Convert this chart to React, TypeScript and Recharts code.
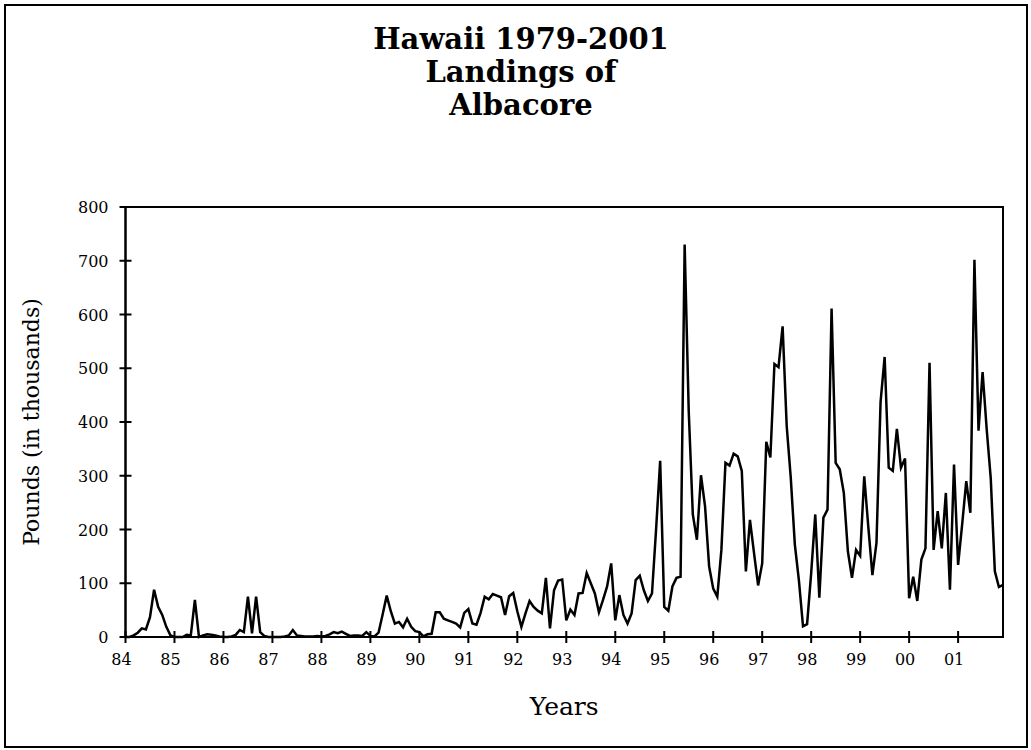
import React from 'react';
import { LineChart, Line, XAxis, YAxis, ReferenceArea, Label } from 'recharts';

// year tick labels (one per January)
const years = ['84', '85', '86', '87', '88', '89', '90', '91', '92', '93', '94', '95', '96', '97', '98', '99', '00', '01'];

// monthly landings, thousands of pounds
const y1984 = [0, 0, 3, 8, 16, 14, 37, 88, 56, 41, 19, 3];
const y1985 = [0, 0, 0, 4, 3, 69, 0, 3, 5, 4, 3, 1];
const y1986 = [0, 0, 1, 4, 13, 9, 75, 7, 75, 9, 2, 0];
const y1987 = [0, 0, 0, 1, 3, 13, 3, 2, 1, 1, 1, 2];
const y1988 = [1, 2, 5, 9, 7, 10, 6, 2, 3, 3, 2, 9];
const y1989 = [2, 1, 8, 42, 77, 48, 25, 28, 18, 34, 19, 11];
const y1990 = [9, 1, 5, 6, 46, 46, 34, 31, 28, 25, 18, 45];
const y1991 = [52, 25, 23, 45, 75, 70, 80, 77, 74, 41, 76, 82];
const y1992 = [48, 19, 44, 67, 56, 49, 44, 110, 16, 87, 105, 107];
const y1993 = [31, 51, 41, 81, 82, 119, 100, 81, 46, 69, 94, 137];
const y1994 = [31, 78, 41, 25, 44, 106, 114, 87, 67, 81, 200, 328];
const y1995 = [56, 49, 94, 110, 112, 730, 420, 228, 181, 301, 243, 131];
const y1996 = [90, 75, 162, 324, 319, 341, 336, 309, 122, 218, 156, 96];
const y1997 = [137, 363, 334, 508, 502, 578, 393, 296, 172, 105, 20, 24];
const y1998 = [119, 228, 73, 222, 237, 611, 324, 312, 268, 159, 110, 162];
const y1999 = [151, 299, 205, 115, 175, 437, 521, 315, 309, 387, 315, 332];
const y2000 = [72, 112, 67, 144, 165, 510, 162, 234, 165, 268, 88, 321];
const y2001 = [134, 210, 290, 231, 702, 384, 493, 387, 295, 122, 93, 97];

const yTicks = [0, 100, 200, 300, 400, 500, 600, 700, 800];

const byYear = [
    y1984, y1985, y1986, y1987, y1988, y1989, y1990, y1991, y1992,
    y1993, y1994, y1995, y1996, y1997, y1998, y1999, y2000, y2001,
];

const data = byYear.flatMap((vals, yi) => vals.map((v, m) => ({ t: yi * 12 + m, v })));
const lastT = data.length - 1;

const serif = '"DejaVu Serif", serif';

// ticks in this chart cross the axis line, so draw them by hand
const XTick = (props: any) => {
    const { x, y, payload } = props;
    const axisY = y - 14;
    return (
        <g>
            <line x1={x} x2={x} y1={axisY - 6} y2={axisY + 6} stroke="#000" strokeWidth={2} />
            <text x={x - 4} y={y + 14} textAnchor="middle" fontFamily={serif} fontSize={16} fill="#000">
                {years[payload.value / 12]}
            </text>
        </g>
    );
};

const YTick = (props: any) => {
    const { x, y, payload } = props;
    const axisX = x + 14;
    return (
        <g>
            <line x1={axisX - 6} x2={axisX + 6} y1={y} y2={y} stroke="#000" strokeWidth={2} />
            <text x={x - 3} y={y + 6} textAnchor="end" fontFamily={serif} fontSize={16} fill="#000">
                {payload.value}
            </text>
        </g>
    );
};

export default function App() {
    return (
        <div style={{ position: 'absolute', left: 0, top: 0, width: 1031, height: 750, background: '#fff' }}>
            <div
                style={{
                    position: 'absolute',
                    left: 4,
                    top: 4,
                    width: 1020,
                    height: 740,
                    border: '2px solid #000',
                }}
            />
            <div
                style={{
                    position: 'absolute',
                    left: 11,
                    top: 23,
                    width: 1020,
                    textAlign: 'center',
                    fontFamily: serif,
                    fontWeight: 'bold',
                    fontSize: 29,
                    lineHeight: '33px',
                    color: '#000',
                }}
            >
                <div>Hawaii 1979-2001</div>
                <div>Landings of</div>
                <div>Albacore</div>
            </div>
            <div style={{ position: 'absolute', left: 0, top: 0 }}>
                <LineChart width={1031} height={750} data={data} margin={{ top: 207, right: 28, bottom: 23, left: 0 }}>
                    <XAxis
                        type="number"
                        dataKey="t"
                        domain={[0, lastT]}
                        ticks={years.map((_, i) => i * 12)}
                        interval={0}
                        height={90}
                        tickSize={6}
                        tickMargin={8}
                        tickLine={false}
                        axisLine={{ stroke: '#000', strokeWidth: 2 }}
                        tick={<XTick />}
                    >
                        <Label
                            value="Years"
                            position="insideBottom"
                            offset={12}
                            style={{ fontFamily: serif, fontSize: 25, fill: '#000' }}
                        />
                    </XAxis>
                    <YAxis
                        type="number"
                        domain={[0, 800]}
                        ticks={yTicks}
                        interval={0}
                        width={125.5}
                        tickSize={6}
                        tickMargin={8}
                        tickLine={false}
                        axisLine={{ stroke: '#000', strokeWidth: 2 }}
                        tick={<YTick />}
                    >
                        <Label
                            value="Pounds (in thousands)"
                            angle={-90}
                            position="insideLeft"
                            offset={31}
                            style={{ fontFamily: serif, fontSize: 22, fill: '#000', textAnchor: 'middle' }}
                        />
                    </YAxis>
                    <ReferenceArea
                        x1={0}
                        x2={lastT}
                        y1={0}
                        y2={800}
                        fill="none"
                        fillOpacity={0}
                        stroke="#000"
                        strokeWidth={2}
                        ifOverflow="visible"
                    />
                    <Line
                        type="linear"
                        dataKey="v"
                        stroke="#000"
                        strokeWidth={2.5}
                        dot={false}
                        activeDot={false}
                        isAnimationActive={false}
                    />
                </LineChart>
            </div>
        </div>
    );
}
